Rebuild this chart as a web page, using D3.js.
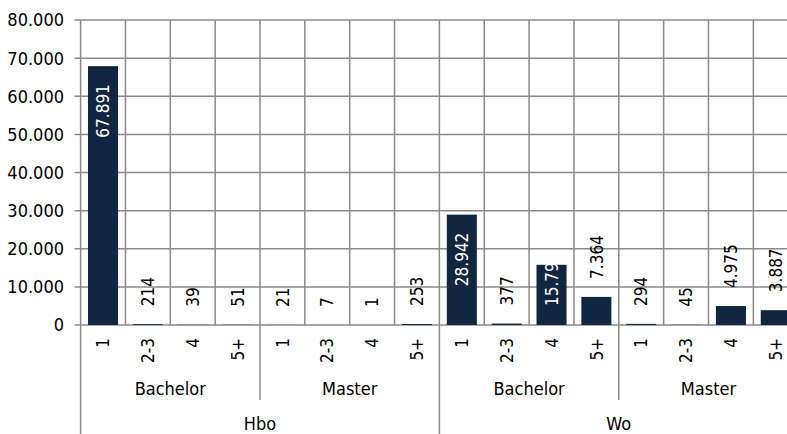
<!DOCTYPE html>
<html><head><meta charset="utf-8">
<script src="https://cdn.jsdelivr.net/npm/d3@7"></script>
<style>
html,body{margin:0;padding:0;background:#fff;overflow:hidden}
text{font-family:"DejaVu Sans Condensed","Noto Sans",sans-serif;font-stretch:condensed;fill:#000}
</style></head><body>
<svg id="chart" width="787" height="434"></svg>
<script>
const sectors = ["Hbo", "Wo"];
const degrees = ["Bachelor", "Master"];
const durations = ["1", "2-3", "4", "5+"];
const hboValues = [67891, 214, 39, 51, 21, 7, 1, 253];
const woValues = [28942, 377, 15790, 7364, 294, 45, 4975, 3887];
const valueLabels = ["67.891","214","39","51","21","7","1","253","28.942","377","15.79","7.364","294","45","4.975","3.887"];
const yTicks = [0, 10000, 20000, 30000, 40000, 50000, 60000, 70000, 80000];
const yTickLabels = ["0","10.000","20.000","30.000","40.000","50.000","60.000","70.000","80.000"];

(function(){
const rows = [];
const allValues = hboValues.concat(woValues);
sectors.forEach((s, si) => degrees.forEach((d, di) => durations.forEach((u, ui) => {
  const i = si * 8 + di * 4 + ui;
  rows.push({key: i, sector: s, degree: d, duration: u, value: allValues[i], label: valueLabels[i]});
})));

const svg = d3.select("#chart");
const plotLeft = 80.6, plotTop = 20, base = 325;
const x = d3.scaleBand().domain(rows.map(r => r.key)).range([plotLeft, plotLeft + 16 * 44.85]).paddingInner(0.33).paddingOuter(0.165);
const y = d3.scaleLinear().domain([0, 80000]).range([base, plotTop]);
const grid = "#8a8a8a";
const bw = x.step();

svg.append("g").selectAll("line").data(yTicks).join("line")
  .attr("x1", plotLeft - 6).attr("x2", 787)
  .attr("y1", d => y(d)).attr("y2", d => y(d))
  .attr("stroke", grid).attr("stroke-width", 1.5);

const bounds = d3.range(0, 17).map(i => plotLeft + i * bw);
svg.append("g").selectAll("line").data(bounds.slice(1)).join("line")
  .attr("x1", d => d).attr("x2", d => d)
  .attr("y1", plotTop).attr("y2", base)
  .attr("stroke", grid).attr("stroke-width", 1.5);

svg.append("line").attr("x1", plotLeft).attr("x2", plotLeft).attr("y1", plotTop).attr("y2", 434)
  .attr("stroke", grid).attr("stroke-width", 1.5);

svg.append("g").selectAll("line").data([4, 12]).join("line")
  .attr("x1", i => bounds[i]).attr("x2", i => bounds[i])
  .attr("y1", base).attr("y2", 400).attr("stroke", grid).attr("stroke-width", 1.5);
svg.append("g").selectAll("line").data([8]).join("line")
  .attr("x1", i => bounds[i]).attr("x2", i => bounds[i])
  .attr("y1", base).attr("y2", 434).attr("stroke", grid).attr("stroke-width", 1.5);

svg.append("g").selectAll("text").data(yTicks).join("text")
  .attr("x", 64).attr("y", d => y(d)).attr("dy", "0.36em")
  .attr("text-anchor", "end").style("font-size", "18px")
  .text((d, i) => yTickLabels[i]);

svg.append("g").selectAll("rect").data(rows).join("rect")
  .attr("x", d => x(d.key)).attr("width", x.bandwidth())
  .attr("y", d => y(d.value)).attr("height", d => base - y(d.value))
  .attr("fill", "#13263f");

const vl = svg.append("g").selectAll("text").data(rows).join("text")
  .style("font-size", "17px").attr("text-anchor", "start")
  .text(d => d.label);
vl.each(function(d) {
  const len = this.getComputedTextLength();
  const barH = base - y(d.value);
  const cx = x(d.key) + x.bandwidth() / 2;
  let startY, fill = "#000";
  if (barH > len) {
    startY = Math.min(y(d.value) + 18 + len, base - 19);
    fill = "#fff";
  } else {
    startY = y(d.value) - 18;
  }
  d3.select(this).attr("transform", `translate(${cx},${startY}) rotate(-90)`)
    .attr("dy", "0.36em").style("fill", fill);
});

svg.append("g").selectAll("text").data(rows).join("text")
  .attr("transform", d => `translate(${x(d.key) + x.bandwidth() / 2},338) rotate(-90)`)
  .attr("dy", "0.36em").attr("text-anchor", "end").style("font-size", "17px")
  .text(d => d.duration);

const degGroups = [];
sectors.forEach((s, si) => degrees.forEach((d, di) => degGroups.push({name: d, i: si * 2 + di})));
svg.append("g").selectAll("text").data(degGroups).join("text")
  .attr("x", d => bounds[d.i * 4] + 2 * bw).attr("y", 395)
  .attr("text-anchor", "middle").style("font-size", "18px")
  .text(d => d.name);

svg.append("g").selectAll("text").data(sectors).join("text")
  .attr("x", (d, i) => bounds[i * 8] + 4 * bw).attr("y", 430)
  .attr("text-anchor", "middle").style("font-size", "18px")
  .text(d => d);
})();
</script></body></html>
